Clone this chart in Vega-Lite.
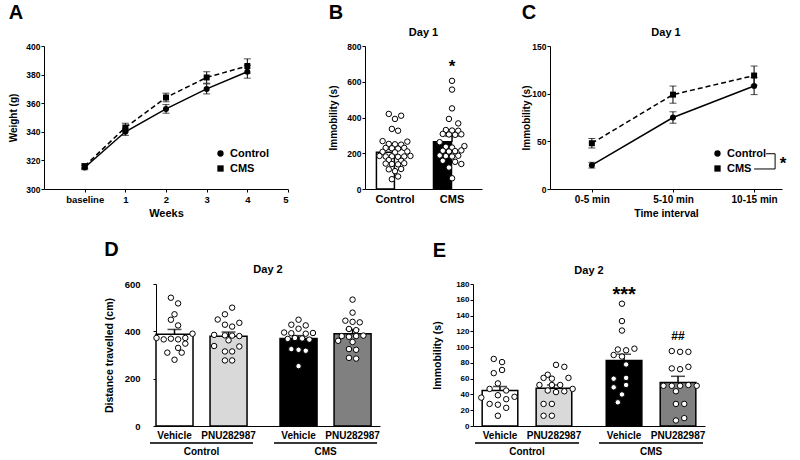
{
  "$schema": "https://vega.github.io/schema/vega-lite/v6.json",
  "background": "white",
  "padding": {"left": 8, "right": 4, "top": 3, "bottom": 2},
  "datasets": {
    "A": [
      {"week": 0, "group": "Control", "mean": 315, "lo": 313.5, "hi": 316.5},
      {"week": 1, "group": "Control", "mean": 340, "lo": 337.5, "hi": 342.5},
      {"week": 2, "group": "Control", "mean": 356, "lo": 353, "hi": 359},
      {"week": 3, "group": "Control", "mean": 370, "lo": 366.5, "hi": 373.5},
      {"week": 4, "group": "Control", "mean": 382, "lo": 377.5, "hi": 386.5},
      {"week": 0, "group": "CMS", "mean": 316, "lo": 314.5, "hi": 317.5},
      {"week": 1, "group": "CMS", "mean": 343, "lo": 340, "hi": 346},
      {"week": 2, "group": "CMS", "mean": 364, "lo": 361, "hi": 367},
      {"week": 3, "group": "CMS", "mean": 378, "lo": 374, "hi": 382},
      {"week": 4, "group": "CMS", "mean": 386, "lo": 381, "hi": 391}
    ],
    "C": [
      {"t": "0-5 min", "group": "Control", "mean": 25, "lo": 22, "hi": 28},
      {"t": "5-10 min", "group": "Control", "mean": 75, "lo": 69, "hi": 81},
      {"t": "10-15 min", "group": "Control", "mean": 108, "lo": 99, "hi": 117},
      {"t": "0-5 min", "group": "CMS", "mean": 48, "lo": 43, "hi": 53},
      {"t": "5-10 min", "group": "CMS", "mean": 99, "lo": 90, "hi": 108},
      {"t": "10-15 min", "group": "CMS", "mean": 119, "lo": 109, "hi": 129}
    ],
    "Bbar": [
      {"g": "Control", "mean": 205, "upper": 222},
      {"g": "CMS", "mean": 265, "upper": 296}
    ],
    "Bpts": [
      {"g": "Control", "c": -2, "v": 420}, {"g": "Control", "c": 2, "v": 410}, {"g": "Control", "c": 0, "v": 392},
      {"g": "Control", "c": -1, "v": 336}, {"g": "Control", "c": 1, "v": 326},
      {"g": "Control", "c": -4, "v": 268}, {"g": "Control", "c": 4, "v": 265},
      {"g": "Control", "c": -2, "v": 252}, {"g": "Control", "c": 0, "v": 250}, {"g": "Control", "c": 2, "v": 248},
      {"g": "Control", "c": -3, "v": 230}, {"g": "Control", "c": -1, "v": 228}, {"g": "Control", "c": 1, "v": 226}, {"g": "Control", "c": 3, "v": 230},
      {"g": "Control", "c": -4, "v": 208}, {"g": "Control", "c": 0, "v": 205}, {"g": "Control", "c": 4, "v": 210},
      {"g": "Control", "c": -5, "v": 185}, {"g": "Control", "c": -3, "v": 182}, {"g": "Control", "c": -1, "v": 183}, {"g": "Control", "c": 1, "v": 180}, {"g": "Control", "c": 3, "v": 182}, {"g": "Control", "c": 5, "v": 185},
      {"g": "Control", "c": -2, "v": 162}, {"g": "Control", "c": 2, "v": 158},
      {"g": "Control", "c": -3, "v": 142}, {"g": "Control", "c": -1, "v": 140}, {"g": "Control", "c": 1, "v": 138}, {"g": "Control", "c": 3, "v": 144},
      {"g": "Control", "c": -2, "v": 110}, {"g": "Control", "c": 0, "v": 100}, {"g": "Control", "c": 2, "v": 112},
      {"g": "Control", "c": 1, "v": 70}, {"g": "Control", "c": -1, "v": 55},
      {"g": "CMS", "c": 0, "v": 605}, {"g": "CMS", "c": 0, "v": 556}, {"g": "CMS", "c": 0, "v": 451},
      {"g": "CMS", "c": -1, "v": 392}, {"g": "CMS", "c": 2, "v": 367},
      {"g": "CMS", "c": -2, "v": 330}, {"g": "CMS", "c": 0, "v": 327}, {"g": "CMS", "c": 2, "v": 326},
      {"g": "CMS", "c": -3, "v": 308}, {"g": "CMS", "c": -1, "v": 305}, {"g": "CMS", "c": 1, "v": 303}, {"g": "CMS", "c": 3, "v": 306},
      {"g": "CMS", "c": -4, "v": 262}, {"g": "CMS", "c": 4, "v": 240}, {"g": "CMS", "c": -2, "v": 236}, {"g": "CMS", "c": 0, "v": 232},
      {"g": "CMS", "c": -3, "v": 214}, {"g": "CMS", "c": -1, "v": 210}, {"g": "CMS", "c": 1, "v": 212}, {"g": "CMS", "c": 3, "v": 216},
      {"g": "CMS", "c": -4, "v": 188}, {"g": "CMS", "c": -2, "v": 184}, {"g": "CMS", "c": 0, "v": 182}, {"g": "CMS", "c": 2, "v": 186},
      {"g": "CMS", "c": -3, "v": 158}, {"g": "CMS", "c": 1, "v": 152}, {"g": "CMS", "c": 3, "v": 140},
      {"g": "CMS", "c": -1, "v": 120}, {"g": "CMS", "c": 0, "v": 60}
    ],
    "Dbar": [
      {"g": "Control", "t": "Vehicle", "cond": "CV", "mean": 388, "upper": 408},
      {"g": "Control", "t": "PNU282987", "cond": "CP", "mean": 379, "upper": 397},
      {"g": "CMS", "t": "Vehicle", "cond": "MV", "mean": 370, "upper": 382},
      {"g": "CMS", "t": "PNU282987", "cond": "MP", "mean": 390, "upper": 408}
    ],
    "Dpts": [
      {"g": "Control", "s": "V-1", "v": 542}, {"g": "Control", "s": "V1", "v": 518}, {"g": "Control", "s": "V0", "v": 472},
      {"g": "Control", "s": "V-1", "v": 449}, {"g": "Control", "s": "V1", "v": 425}, {"g": "Control", "s": "V5", "v": 390},
      {"g": "Control", "s": "V-5", "v": 372}, {"g": "Control", "s": "V-3", "v": 366}, {"g": "Control", "s": "V-1", "v": 369},
      {"g": "Control", "s": "V1", "v": 366}, {"g": "Control", "s": "V3", "v": 372}, {"g": "Control", "s": "V3", "v": 348},
      {"g": "Control", "s": "V-2", "v": 310}, {"g": "Control", "s": "V1", "v": 330}, {"g": "Control", "s": "V2", "v": 310},
      {"g": "Control", "s": "V0", "v": 280},
      {"g": "Control", "s": "P1", "v": 500}, {"g": "Control", "s": "P-1", "v": 472}, {"g": "Control", "s": "P-3", "v": 450},
      {"g": "Control", "s": "P3", "v": 436}, {"g": "Control", "s": "P-1", "v": 428}, {"g": "Control", "s": "P1", "v": 420},
      {"g": "Control", "s": "P-4", "v": 385}, {"g": "Control", "s": "P-1", "v": 383}, {"g": "Control", "s": "P1", "v": 382},
      {"g": "Control", "s": "P3", "v": 380}, {"g": "Control", "s": "P0", "v": 362}, {"g": "Control", "s": "P-4", "v": 338},
      {"g": "Control", "s": "P3", "v": 336}, {"g": "Control", "s": "P-1", "v": 315}, {"g": "Control", "s": "P1", "v": 315},
      {"g": "Control", "s": "P-1", "v": 277}, {"g": "Control", "s": "P1", "v": 277},
      {"g": "CMS", "s": "V0", "v": 449}, {"g": "CMS", "s": "V-2", "v": 428}, {"g": "CMS", "s": "V2", "v": 425},
      {"g": "CMS", "s": "V0", "v": 411}, {"g": "CMS", "s": "V-4", "v": 395}, {"g": "CMS", "s": "V-2", "v": 392},
      {"g": "CMS", "s": "V2", "v": 390}, {"g": "CMS", "s": "V4", "v": 393}, {"g": "CMS", "s": "V-3", "v": 368},
      {"g": "CMS", "s": "V-1", "v": 372}, {"g": "CMS", "s": "V1", "v": 370}, {"g": "CMS", "s": "V3", "v": 365},
      {"g": "CMS", "s": "V-2", "v": 325}, {"g": "CMS", "s": "V0", "v": 322}, {"g": "CMS", "s": "V2", "v": 318},
      {"g": "CMS", "s": "V0", "v": 253},
      {"g": "CMS", "s": "P0", "v": 534}, {"g": "CMS", "s": "P0", "v": 479}, {"g": "CMS", "s": "P-2", "v": 445},
      {"g": "CMS", "s": "P0", "v": 440}, {"g": "CMS", "s": "P2", "v": 438}, {"g": "CMS", "s": "P-1", "v": 410},
      {"g": "CMS", "s": "P1", "v": 405}, {"g": "CMS", "s": "P-3", "v": 380}, {"g": "CMS", "s": "P-1", "v": 377},
      {"g": "CMS", "s": "P1", "v": 380}, {"g": "CMS", "s": "P3", "v": 382}, {"g": "CMS", "s": "P-4", "v": 360},
      {"g": "CMS", "s": "P0", "v": 355}, {"g": "CMS", "s": "P-1", "v": 325}, {"g": "CMS", "s": "P1", "v": 322},
      {"g": "CMS", "s": "P-1", "v": 288}, {"g": "CMS", "s": "P1", "v": 285}
    ],
    "Ebar": [
      {"g": "Control", "t": "Vehicle", "cond": "CV", "mean": 45, "upper": 50},
      {"g": "Control", "t": "PNU282987", "cond": "CP", "mean": 48, "upper": 52},
      {"g": "CMS", "t": "Vehicle", "cond": "MV", "mean": 83, "upper": 91},
      {"g": "CMS", "t": "PNU282987", "cond": "MP", "mean": 55, "upper": 63}
    ],
    "Epts": [
      {"g": "Control", "s": "V-1", "v": 85}, {"g": "Control", "s": "V1", "v": 81}, {"g": "Control", "s": "V1", "v": 71},
      {"g": "Control", "s": "V-1", "v": 67}, {"g": "Control", "s": "V0", "v": 54}, {"g": "Control", "s": "V-2", "v": 47},
      {"g": "Control", "s": "V2", "v": 45}, {"g": "Control", "s": "V0", "v": 39}, {"g": "Control", "s": "V-4", "v": 36},
      {"g": "Control", "s": "V4", "v": 37}, {"g": "Control", "s": "V2", "v": 34}, {"g": "Control", "s": "V-2", "v": 28},
      {"g": "Control", "s": "V0", "v": 27}, {"g": "Control", "s": "V2", "v": 23}, {"g": "Control", "s": "V0", "v": 13},
      {"g": "Control", "s": "P0", "v": 77.5}, {"g": "Control", "s": "P2", "v": 75}, {"g": "Control", "s": "P-2", "v": 65},
      {"g": "Control", "s": "P-3", "v": 61}, {"g": "Control", "s": "P-1", "v": 60}, {"g": "Control", "s": "P3", "v": 61},
      {"g": "Control", "s": "P-4", "v": 52}, {"g": "Control", "s": "P-1", "v": 52}, {"g": "Control", "s": "P1", "v": 52},
      {"g": "Control", "s": "P4", "v": 47}, {"g": "Control", "s": "P-2", "v": 45}, {"g": "Control", "s": "P0", "v": 43},
      {"g": "Control", "s": "P2", "v": 44}, {"g": "Control", "s": "P-3", "v": 28}, {"g": "Control", "s": "P-1", "v": 28},
      {"g": "Control", "s": "P-3", "v": 13}, {"g": "Control", "s": "P-1", "v": 13},
      {"g": "CMS", "s": "V0", "v": 155}, {"g": "CMS", "s": "V0", "v": 133}, {"g": "CMS", "s": "V0", "v": 121},
      {"g": "CMS", "s": "V3", "v": 98}, {"g": "CMS", "s": "V-1", "v": 97}, {"g": "CMS", "s": "V1", "v": 96},
      {"g": "CMS", "s": "V-2", "v": 90}, {"g": "CMS", "s": "V0", "v": 88}, {"g": "CMS", "s": "V1", "v": 78},
      {"g": "CMS", "s": "V1", "v": 61}, {"g": "CMS", "s": "V-2", "v": 60}, {"g": "CMS", "s": "V1", "v": 52},
      {"g": "CMS", "s": "V-2", "v": 49}, {"g": "CMS", "s": "V0", "v": 40}, {"g": "CMS", "s": "V-1", "v": 30},
      {"g": "CMS", "s": "P-2", "v": 95}, {"g": "CMS", "s": "P0", "v": 94}, {"g": "CMS", "s": "P2", "v": 94},
      {"g": "CMS", "s": "P-2", "v": 73}, {"g": "CMS", "s": "P0", "v": 72}, {"g": "CMS", "s": "P2", "v": 75},
      {"g": "CMS", "s": "P-4", "v": 51}, {"g": "CMS", "s": "P-2", "v": 51}, {"g": "CMS", "s": "P0", "v": 51},
      {"g": "CMS", "s": "P2", "v": 52}, {"g": "CMS", "s": "P4", "v": 51}, {"g": "CMS", "s": "P-1", "v": 44},
      {"g": "CMS", "s": "P-1", "v": 28}, {"g": "CMS", "s": "P1", "v": 28}, {"g": "CMS", "s": "P-1", "v": 7},
      {"g": "CMS", "s": "P1", "v": 10}
    ]
  },
  "resolve": {"scale": {"x": "independent", "y": "independent", "fill": "independent", "shape": "independent", "xOffset": "independent"}, "legend": {"shape": "independent", "fill": "independent"}},
  "spacing": 21,
  "vconcat": [
    {
      "spacing": 39,
      "resolve": {"scale": {"x": "independent", "y": "independent", "fill": "independent", "shape": "independent", "xOffset": "independent"}, "legend": {"shape": "independent", "fill": "independent"}},
      "hconcat": [
        {
          "title": {"text": "A", "anchor": "start", "frame": "bounds", "fontSize": 20, "offset": 4},
          "resolve": {"scale": {"shape": "independent"}, "legend": {"shape": "independent"}},
          "vconcat": [
            {
              "width": 244, "height": 143,
              "title": {"text": " "},
              "data": {"name": "A"},
              "encoding": {
                "x": {"field": "week", "type": "quantitative", "scale": {"domain": [-1, 5], "nice": false, "zero": false}, "axis": {"values": [0, 1, 2, 3, 4, 5], "labelExpr": "datum.value == 0 ? 'baseline' : datum.label", "title": "Weeks", "labelFontSize": 9.5, "titleFontSize": 11, "labelPadding": 2}},
                "y": {"field": "mean", "type": "quantitative", "title": "Weight (g)", "scale": {"domain": [300, 400], "nice": false, "zero": false}, "axis": {"values": [300, 320, 340, 360, 380, 400], "labelOverlap": false, "titlePadding": 7}}
              },
              "layer": [
                {"transform": [{"filter": "datum.group == 'Control'"}], "mark": {"type": "line", "color": "black", "strokeWidth": 1.5}},
                {"transform": [{"filter": "datum.group == 'CMS'"}], "mark": {"type": "line", "color": "black", "strokeWidth": 1.5, "strokeDash": [5, 3]}},
                {"mark": {"type": "errorbar", "ticks": {"size": 7}, "color": "black"}, "encoding": {"y": {"field": "lo", "type": "quantitative", "title": "Weight (g)"}, "y2": {"field": "hi"}, "detail": {"field": "group"}}},
                {"mark": {"type": "point", "filled": true, "color": "black", "size": 36, "opacity": 1}, "encoding": {"shape": {"field": "group", "type": "nominal", "scale": {"domain": ["Control", "CMS"], "range": ["circle", "square"]}, "legend": {"title": null, "orient": "none", "legendX": 171, "legendY": 102, "labelFontSize": 11, "symbolSize": 40, "rowPadding": 2, "symbolFillColor": "black"}}}}
              ]
            }
          ]
        },
        {
          "title": {"text": "B", "anchor": "start", "frame": "bounds", "fontSize": 20, "offset": 4},
          "resolve": {"scale": {"fill": "independent"}, "legend": {"fill": "independent"}},
          "vconcat": [
            {
              "width": 117, "height": 143,
              "title": {"text": "Day 1"},
              "layer": [
                {"data": {"name": "Bbar"}, "mark": {"type": "bar", "stroke": "black", "strokeWidth": 1.5},
                 "encoding": {
                   "x": {"field": "g", "type": "nominal", "sort": ["Control", "CMS"], "scale": {"paddingInner": 0.35, "paddingOuter": 0.2}, "axis": {"title": null, "labelAngle": 0, "labelFontSize": 11, "ticks": false, "labelPadding": 4}},
                   "y": {"field": "mean", "type": "quantitative", "title": "Immobility (s)", "scale": {"domain": [0, 800], "nice": false}, "axis": {"values": [0, 200, 400, 600, 800], "labelOverlap": false, "tickCount": 5, "titlePadding": 8}},
                   "fill": {"field": "g", "type": "nominal", "scale": {"domain": ["Control", "CMS"], "range": ["white", "black"]}, "legend": null}
                 }},
                {"data": {"name": "Bbar"}, "mark": {"type": "rule", "color": "black", "strokeWidth": 1.5},
                 "encoding": {"x": {"field": "g", "type": "nominal", "sort": ["Control", "CMS"]}, "y": {"field": "mean", "type": "quantitative", "title": "Immobility (s)"}, "y2": {"field": "upper"}}},
                {"data": {"name": "Bbar"}, "mark": {"type": "tick", "orient": "horizontal", "color": "black", "size": 14, "thickness": 1.5},
                 "encoding": {"x": {"field": "g", "type": "nominal", "sort": ["Control", "CMS"]}, "y": {"field": "upper", "type": "quantitative", "title": "Immobility (s)"}}},
                {"data": {"name": "Bpts"}, "mark": {"type": "point", "shape": "circle", "filled": true, "fill": "white", "stroke": "black", "strokeWidth": 1, "size": 30, "opacity": 1},
                 "encoding": {"x": {"field": "g", "type": "nominal", "sort": ["Control", "CMS"]}, "xOffset": {"field": "c", "type": "quantitative", "scale": {"domain": [-6, 6]}}, "y": {"field": "v", "type": "quantitative", "title": "Immobility (s)"}}},
                {"data": {"values": [{"g": "CMS", "lab": "*", "y": 680}]}, "mark": {"type": "text", "fontSize": 17, "fontWeight": "bold", "baseline": "middle", "color": "black"},
                 "encoding": {"x": {"field": "g", "type": "nominal", "sort": ["Control", "CMS"]}, "y": {"field": "y", "type": "quantitative", "title": "Immobility (s)"}, "text": {"field": "lab"}}}
              ]
            }
          ]
        },
        {
          "title": {"text": "C", "anchor": "start", "frame": "bounds", "fontSize": 20, "offset": 4},
          "resolve": {"scale": {"shape": "independent"}, "legend": {"shape": "independent"}},
          "vconcat": [
            {
              "width": 232, "height": 143,
              "title": {"text": "Day 1"},
              "layer": [
                {"data": {"name": "C"}, "transform": [{"filter": "datum.group == 'Control'"}], "mark": {"type": "line", "color": "black", "strokeWidth": 1.5},
                 "encoding": {
                   "x": {"field": "t", "type": "nominal", "sort": ["0-5 min", "5-10 min", "10-15 min"], "scale": {"type": "point", "padding": 0.43, "align": 0.6, "domain": ["0-5 min", "5-10 min", "10-15 min"]}, "axis": {"title": "Time interval", "labelAngle": 0, "labelFontSize": 10, "titleFontSize": 10.5, "labelPadding": 2}},
                   "y": {"field": "mean", "type": "quantitative", "title": "Immobility (s)", "scale": {"domain": [0, 150], "nice": false}, "axis": {"values": [0, 50, 100, 150], "labelOverlap": false, "titlePadding": 0}}
                 }},
                {"data": {"name": "C"}, "transform": [{"filter": "datum.group == 'CMS'"}], "mark": {"type": "line", "color": "black", "strokeWidth": 1.5, "strokeDash": [5, 3]},
                 "encoding": {"x": {"field": "t", "type": "nominal"}, "y": {"field": "mean", "type": "quantitative", "title": "Immobility (s)"}}},
                {"data": {"name": "C"}, "mark": {"type": "errorbar", "ticks": {"size": 7}, "color": "black"},
                 "encoding": {"x": {"field": "t", "type": "nominal"}, "y": {"field": "lo", "type": "quantitative", "title": "Immobility (s)"}, "y2": {"field": "hi"}, "detail": {"field": "group"}}},
                {"data": {"name": "C"}, "mark": {"type": "point", "filled": true, "color": "black", "size": 36, "opacity": 1},
                 "encoding": {"x": {"field": "t", "type": "nominal"}, "y": {"field": "mean", "type": "quantitative", "title": "Immobility (s)"},
                   "shape": {"field": "group", "type": "nominal", "scale": {"domain": ["Control", "CMS"], "range": ["circle", "square"]}, "legend": {"title": null, "orient": "none", "legendX": 162, "legendY": 102, "labelFontSize": 11, "symbolSize": 40, "rowPadding": 2, "symbolFillColor": "black"}}}},
                {"data": {"values": [{"p": 1}]}, "mark": {"type": "rule", "color": "black", "strokeWidth": 1, "xOffset": 21},
                 "encoding": {"x": {"datum": "10-15 min", "type": "nominal"}, "y": {"datum": 37, "type": "quantitative"}, "y2": {"datum": 21}}},
                {"data": {"values": [{"p": 1}]}, "mark": {"type": "rule", "color": "black", "strokeWidth": 1, "xOffset": 12, "x2Offset": 21},
                 "encoding": {"x": {"datum": "10-15 min", "type": "nominal"}, "x2": {"datum": "10-15 min"}, "y": {"datum": 37, "type": "quantitative"}}},
                {"data": {"values": [{"p": 1}]}, "mark": {"type": "rule", "color": "black", "strokeWidth": 1, "xOffset": 0, "x2Offset": 21},
                 "encoding": {"x": {"datum": "10-15 min", "type": "nominal"}, "x2": {"datum": "10-15 min"}, "y": {"datum": 21, "type": "quantitative"}}},
                {"data": {"values": [{"lab": "*"}]}, "mark": {"type": "text", "fontSize": 17, "fontWeight": "bold", "baseline": "middle", "dx": 29, "color": "black"},
                 "encoding": {"x": {"datum": "10-15 min", "type": "nominal"}, "y": {"datum": 26, "type": "quantitative"}, "text": {"field": "lab"}}}
              ]
            }
          ]
        }
      ]
    },
    {
      "spacing": 52,
      "resolve": {"scale": {"x": "independent", "y": "independent", "fill": "independent", "shape": "independent", "xOffset": "independent"}, "legend": {"shape": "independent", "fill": "independent"}},
      "hconcat": [
        {"width": 8, "height": 100, "data": {"values": [{"p": 1}]}, "mark": {"type": "point", "opacity": 0}, "encoding": {}},
        {
          "title": {"text": "D", "anchor": "start", "frame": "bounds", "fontSize": 20, "offset": 4},
          "resolve": {"scale": {"fill": "independent"}, "legend": {"fill": "independent"}},
          "vconcat": [
            {
              "width": 224, "height": 142,
              "title": {"text": "Day 2"},
              "resolve": {"scale": {"xOffset": "independent"}},
              "layer": [
                {"data": {"name": "Dbar"}, "mark": {"type": "bar", "stroke": "black", "strokeWidth": 1.5},
                 "encoding": {
                   "x": {"field": "g", "type": "nominal", "sort": ["Control", "CMS"], "scale": {"paddingInner": 0.266, "paddingOuter": 0.036, "align": 0}, "axis": {"title": null, "labelAngle": 0, "labelFontSize": 10, "ticks": false, "labelPadding": 20}},
                   "xOffset": {"field": "t", "type": "nominal", "scale": {"type": "band", "domain": ["Vehicle", "PNU282987"], "paddingInner": 0.315, "paddingOuter": 0}},
                   "y": {"field": "mean", "type": "quantitative", "title": "Distance travelled (cm)", "scale": {"domain": [0, 600], "nice": false}, "axis": {"values": [0, 200, 400, 600], "titleFontSize": 10.5, "labelFontSize": 9.5, "titlePadding": 10, "labelPadding": 13, "labelOverlap": false}},
                   "fill": {"field": "cond", "type": "nominal", "scale": {"domain": ["CV", "CP", "MV", "MP"], "range": ["white", "#d9d9d9", "black", "#808080"]}, "legend": null}
                 }},
                {"data": {"name": "Dbar"}, "mark": {"type": "rule", "color": "black", "strokeWidth": 1.5},
                 "encoding": {"x": {"field": "g", "type": "nominal", "sort": ["Control", "CMS"]}, "xOffset": {"field": "t", "type": "nominal", "scale": {"type": "band", "domain": ["Vehicle", "PNU282987"], "paddingInner": 0.315, "paddingOuter": 0}}, "y": {"field": "mean", "type": "quantitative", "title": "Distance travelled (cm)"}, "y2": {"field": "upper"}}},
                {"data": {"name": "Dbar"}, "mark": {"type": "tick", "orient": "horizontal", "color": "black", "size": 14, "thickness": 1.5},
                 "encoding": {"x": {"field": "g", "type": "nominal", "sort": ["Control", "CMS"]}, "xOffset": {"field": "t", "type": "nominal", "scale": {"type": "band", "domain": ["Vehicle", "PNU282987"], "paddingInner": 0.315, "paddingOuter": 0}}, "y": {"field": "upper", "type": "quantitative", "title": "Distance travelled (cm)"}}},
                {"data": {"name": "Dbar"}, "mark": {"type": "text", "fontSize": 10, "fontWeight": "bold", "baseline": "top", "dy": 5, "color": "black"},
                 "encoding": {"x": {"field": "g", "type": "nominal", "sort": ["Control", "CMS"]}, "xOffset": {"field": "t", "type": "nominal", "scale": {"type": "band", "domain": ["Vehicle", "PNU282987"], "paddingInner": 0.315, "paddingOuter": 0}}, "y": {"datum": 0, "type": "quantitative"}, "text": {"field": "t"}}},
                {"data": {"name": "Dbar"}, "mark": {"type": "tick", "orient": "horizontal", "color": "black", "size": 103, "thickness": 1.5, "yOffset": 17},
                 "encoding": {"x": {"field": "g", "type": "nominal", "sort": ["Control", "CMS"]}, "y": {"datum": 0, "type": "quantitative"}}},
                {"data": {"name": "Dpts"}, "mark": {"type": "point", "shape": "circle", "filled": true, "fill": "white", "stroke": "black", "strokeWidth": 1, "size": 30, "opacity": 1},
                 "encoding": {"x": {"field": "g", "type": "nominal", "sort": ["Control", "CMS"]},
                   "xOffset": {"field": "s", "type": "nominal", "scale": {"type": "point", "padding": 0.14, "domain": ["V-5", "V-4", "V-3", "V-2", "V-1", "V0", "V1", "V2", "V3", "V4", "V5", "g1", "g2", "g3", "g4", "P-5", "P-4", "P-3", "P-2", "P-1", "P0", "P1", "P2", "P3", "P4", "P5"]}},
                   "y": {"field": "v", "type": "quantitative", "title": "Distance travelled (cm)"}}}
              ]
            }
          ]
        },
        {
          "title": {"text": "E", "anchor": "start", "frame": "bounds", "fontSize": 20, "offset": 4},
          "resolve": {"scale": {"fill": "independent"}, "legend": {"fill": "independent"}},
          "vconcat": [
            {
              "width": 232, "height": 142,
              "title": {"text": "Day 2"},
              "resolve": {"scale": {"xOffset": "independent"}},
              "layer": [
                {"data": {"name": "Ebar"}, "mark": {"type": "bar", "stroke": "black", "strokeWidth": 1.5},
                 "encoding": {
                   "x": {"field": "g", "type": "nominal", "sort": ["Control", "CMS"], "scale": {"paddingInner": 0.13, "paddingOuter": 0}, "axis": {"title": null, "labelAngle": 0, "labelFontSize": 10, "ticks": false, "labelPadding": 20}},
                   "xOffset": {"field": "t", "type": "nominal", "scale": {"type": "band", "domain": ["Vehicle", "PNU282987"], "paddingInner": 0.34, "paddingOuter": 0.17}},
                   "y": {"field": "mean", "type": "quantitative", "title": "Immobility (s)", "scale": {"domain": [0, 180], "nice": false}, "axis": {"values": [0, 20, 40, 60, 80, 100, 120, 140, 160, 180], "tickCount": 10, "titleFontSize": 10.5, "labelFontSize": 8, "titlePadding": 13, "labelPadding": 1, "labelOverlap": false}},
                   "fill": {"field": "cond", "type": "nominal", "scale": {"domain": ["CV", "CP", "MV", "MP"], "range": ["white", "#d9d9d9", "black", "#808080"]}, "legend": null}
                 }},
                {"data": {"name": "Ebar"}, "mark": {"type": "rule", "color": "black", "strokeWidth": 1.5},
                 "encoding": {"x": {"field": "g", "type": "nominal", "sort": ["Control", "CMS"]}, "xOffset": {"field": "t", "type": "nominal", "scale": {"type": "band", "domain": ["Vehicle", "PNU282987"], "paddingInner": 0.34, "paddingOuter": 0.17}}, "y": {"field": "mean", "type": "quantitative", "title": "Immobility (s)"}, "y2": {"field": "upper"}}},
                {"data": {"name": "Ebar"}, "mark": {"type": "tick", "orient": "horizontal", "color": "black", "size": 14, "thickness": 1.5},
                 "encoding": {"x": {"field": "g", "type": "nominal", "sort": ["Control", "CMS"]}, "xOffset": {"field": "t", "type": "nominal", "scale": {"type": "band", "domain": ["Vehicle", "PNU282987"], "paddingInner": 0.34, "paddingOuter": 0.17}}, "y": {"field": "upper", "type": "quantitative", "title": "Immobility (s)"}}},
                {"data": {"name": "Ebar"}, "mark": {"type": "text", "fontSize": 10, "fontWeight": "bold", "baseline": "top", "dy": 5, "color": "black"},
                 "encoding": {"x": {"field": "g", "type": "nominal", "sort": ["Control", "CMS"]}, "xOffset": {"field": "t", "type": "nominal", "scale": {"type": "band", "domain": ["Vehicle", "PNU282987"], "paddingInner": 0.34, "paddingOuter": 0.17}}, "y": {"datum": 0, "type": "quantitative"}, "text": {"field": "t"}}},
                {"data": {"name": "Ebar"}, "mark": {"type": "tick", "orient": "horizontal", "color": "black", "size": 104, "thickness": 1.5, "yOffset": 17},
                 "encoding": {"x": {"field": "g", "type": "nominal", "sort": ["Control", "CMS"]}, "y": {"datum": 0, "type": "quantitative"}}},
                {"data": {"name": "Epts"}, "mark": {"type": "point", "shape": "circle", "filled": true, "fill": "white", "stroke": "black", "strokeWidth": 1, "size": 30, "opacity": 1},
                 "encoding": {"x": {"field": "g", "type": "nominal", "sort": ["Control", "CMS"]},
                   "xOffset": {"field": "s", "type": "nominal", "scale": {"type": "point", "padding": 2, "domain": ["V-5", "V-4", "V-3", "V-2", "V-1", "V0", "V1", "V2", "V3", "V4", "V5", "g1", "g2", "g3", "P-5", "P-4", "P-3", "P-2", "P-1", "P0", "P1", "P2", "P3", "P4", "P5"]}},
                   "y": {"field": "v", "type": "quantitative", "title": "Immobility (s)"}}},
                {"data": {"values": [{"g": "CMS", "t": "Vehicle", "lab": "***", "y": 166}]}, "mark": {"type": "text", "fontSize": 20, "fontWeight": "bold", "baseline": "middle", "color": "black"},
                 "encoding": {"x": {"field": "g", "type": "nominal", "sort": ["Control", "CMS"]}, "xOffset": {"field": "t", "type": "nominal", "scale": {"type": "band", "domain": ["Vehicle", "PNU282987"], "paddingInner": 0.34, "paddingOuter": 0.17}}, "y": {"field": "y", "type": "quantitative", "title": "Immobility (s)"}, "text": {"field": "lab"}}},
                {"data": {"values": [{"g": "CMS", "t": "PNU282987", "lab": "##", "y": 114}]}, "mark": {"type": "text", "fontSize": 12, "fontWeight": "bold", "baseline": "middle", "color": "black"},
                 "encoding": {"x": {"field": "g", "type": "nominal", "sort": ["Control", "CMS"]}, "xOffset": {"field": "t", "type": "nominal", "scale": {"type": "band", "domain": ["Vehicle", "PNU282987"], "paddingInner": 0.34, "paddingOuter": 0.17}}, "y": {"field": "y", "type": "quantitative", "title": "Immobility (s)"}, "text": {"field": "lab"}}}
              ]
            }
          ]
        }
      ]
    }
  ],
  "config": {
    "font": "Liberation Sans",
    "view": {"stroke": null},
    "axis": {"grid": false, "domainColor": "black", "domainWidth": 1, "tickColor": "black", "tickSize": 3, "tickWidth": 1, "labelColor": "black", "labelFontWeight": "bold", "labelFontSize": 8.5, "titleColor": "black", "titleFontWeight": "bold", "titleFontSize": 10, "labelFont": "Liberation Sans", "titleFont": "Liberation Sans", "titlePadding": 4, "labelPadding": 1, "labelOverlap": false},
    "title": {"font": "Liberation Sans", "fontWeight": "bold", "color": "black", "fontSize": 11, "offset": 4},
    "legend": {"labelFont": "Liberation Sans", "labelFontWeight": "bold", "labelFontSize": 11, "labelColor": "black"}
  }
}
